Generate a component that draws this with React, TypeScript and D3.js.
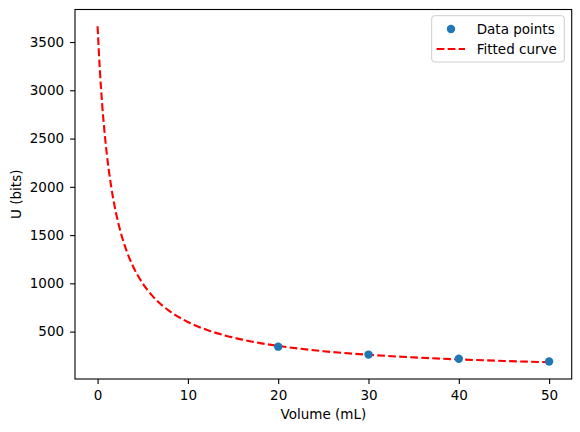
import React, { useRef, useEffect } from 'react';
import * as d3 from 'd3';

// Measured data points (volume in mL, U in bits)
const pointVolumes = [20, 30, 40, 50];
const pointValues = [344, 262, 219, 190];

// Fitted curve
const curveVolumes = [0, 0.25, 0.5, 0.75, 1, 1.5, 2, 2.5, 3, 4, 5, 6, 7, 8, 10, 12, 14, 16, 18, 20, 25, 30, 35, 40, 45, 50];
const curveValues = [3663, 3215, 2866, 2587, 2358, 2006, 1747, 1549, 1393, 1162, 999, 878, 784, 710, 600, 521, 463, 417, 381, 352, 297, 260, 233, 212, 196, 183];

const xTicks = [0, 10, 20, 30, 40, 50];
const yTicks = [500, 1000, 1500, 2000, 2500, 3000, 3500];

const FONT = '"DejaVu Sans", sans-serif';
const FONT_SIZE = '13.5px';
const BLUE = '#1f77b4';
const RED = '#ff0000';

export default function App() {
  const svgRef = useRef<SVGSVGElement>(null);
  const width = 580;
  const height = 432;

  useEffect(() => {
    const svg = d3.select(svgRef.current);
    svg.selectAll('*').remove();

    const plot = { left: 75, right: 571.7, top: 9.5, bottom: 379 };

    // matplotlib-style 5% margins around the data
    const xMin = 0, xMax = 50;
    const xPad = (xMax - xMin) * 0.05;
    const allY = [...curveValues, ...pointValues];
    const yMin = d3.min(allY)!, yMax = d3.max(allY)!;
    const yPad = (yMax - yMin) * 0.05;

    const x = d3.scaleLinear().domain([xMin - xPad, xMax + xPad]).range([plot.left, plot.right]);
    const y = d3.scaleLinear().domain([yMin - yPad, yMax + yPad]).range([plot.bottom, plot.top]);

    svg.append('rect').attr('width', width).attr('height', height).attr('fill', '#fff');

    // curve
    const line = d3.line<number>()
      .x((_, i) => x(curveVolumes[i]))
      .y(d => y(d))
      .curve(d3.curveMonotoneX);

    svg.append('path')
      .datum(curveValues)
      .attr('d', line)
      .attr('fill', 'none')
      .attr('stroke', RED)
      .attr('stroke-width', 2.1)
      .attr('stroke-dasharray', '7.7,3.3');

    // points
    svg.selectAll('.pt')
      .data(pointValues)
      .enter()
      .append('circle')
      .attr('cx', (_, i) => x(pointVolumes[i]))
      .attr('cy', d => y(d))
      .attr('r', 4.2)
      .attr('fill', BLUE);

    // axes
    const xAxis = svg.append('g')
      .attr('transform', `translate(0,${plot.bottom})`)
      .call(d3.axisBottom(x).tickValues(xTicks).tickFormat(d3.format('d')).tickSize(4.9).tickPadding(6.3).tickSizeOuter(0));
    const yAxis = svg.append('g')
      .attr('transform', `translate(${plot.left},0)`)
      .call(d3.axisLeft(y).tickValues(yTicks).tickFormat(d3.format('d')).tickSize(4.9).tickPadding(6).tickSizeOuter(0));

    [xAxis, yAxis].forEach(a => {
      a.select('.domain').remove();
      a.selectAll('line').attr('stroke', '#000').attr('stroke-width', 1.1);
      a.selectAll('text')
        .style('font-family', FONT)
        .style('font-size', FONT_SIZE)
        .attr('fill', '#000');
    });

    // frame
    svg.append('rect')
      .attr('x', plot.left)
      .attr('y', plot.top)
      .attr('width', plot.right - plot.left)
      .attr('height', plot.bottom - plot.top)
      .attr('fill', 'none')
      .attr('stroke', '#000')
      .attr('stroke-width', 1.1);

    // axis labels
    svg.append('text')
      .attr('x', (plot.left + plot.right) / 2)
      .attr('y', 418.5)
      .attr('text-anchor', 'middle')
      .style('font-family', FONT)
      .style('font-size', FONT_SIZE)
      .text('Volume (mL)');

    svg.append('text')
      .attr('transform', `translate(16,${(plot.top + plot.bottom) / 2}) rotate(-90)`)
      .attr('text-anchor', 'middle')
      .attr('dy', '0.35em')
      .style('font-family', FONT)
      .style('font-size', FONT_SIZE)
      .text('U (bits)');

    // legend
    const legend = svg.append('g').attr('transform', 'translate(431.7,15.7)');
    legend.append('rect')
      .attr('width', 132.6)
      .attr('height', 46.3)
      .attr('rx', 3)
      .attr('fill', '#fff')
      .attr('fill-opacity', 0.8)
      .attr('stroke', '#cccccc')
      .attr('stroke-width', 1);

    const items = [
      { label: 'Data points', kind: 'point' },
      { label: 'Fitted curve', kind: 'line' },
    ];
    const rows = legend.selectAll('.legend-item')
      .data(items)
      .enter()
      .append('g')
      .attr('transform', (_, i) => `translate(0,${13.3 + i * 20})`);

    rows.filter(d => d.kind === 'point')
      .append('circle')
      .attr('cx', 19.3)
      .attr('cy', 0)
      .attr('r', 4.2)
      .attr('fill', BLUE);

    rows.filter(d => d.kind === 'line')
      .append('line')
      .attr('x1', 5)
      .attr('x2', 33.3)
      .attr('y1', 0)
      .attr('y2', 0)
      .attr('stroke', RED)
      .attr('stroke-width', 2.1)
      .attr('stroke-dasharray', '7.7,3.3');

    rows.append('text')
      .attr('x', 45)
      .attr('y', 0)
      .attr('dy', '0.36em')
      .style('font-family', FONT)
      .style('font-size', FONT_SIZE)
      .text(d => d.label);
  }, []);

  return (
    <svg
      ref={svgRef}
      width={width}
      height={height}
      style={{ position: 'absolute', left: 0, top: 0, display: 'block' }}
    />
  );
}
